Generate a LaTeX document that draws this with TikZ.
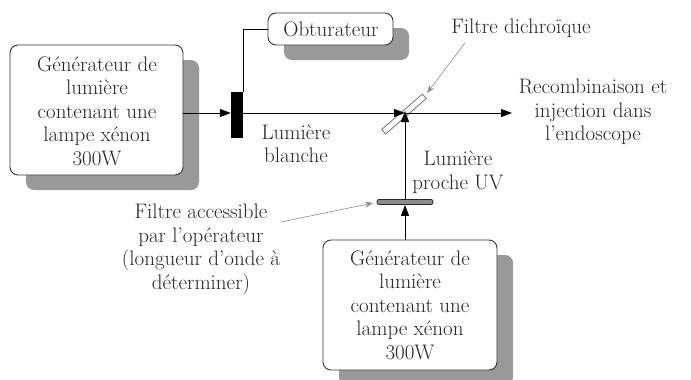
\documentclass[tikz,border=0pt]{standalone}
\usepackage{fontspec}
\usetikzlibrary{arrows.meta,shadows}
\begin{document}
\begin{tikzpicture}[x=1pt,y=-1pt,
  txt/.style={font=\fontsize{21}{23.5}\selectfont, align=center, inner sep=0pt, text=black!85},
  sbox/.style={draw=black!80, line width=0.9pt, fill=white, rounded corners=8pt,
    drop shadow={shadow xshift=16pt, shadow yshift=-15pt, fill=black!40, opacity=1}},
  arr/.style={line width=1pt, -{Triangle[length=11pt,width=8pt]}},
  garr/.style={draw=black!45, line width=0.6pt, -{Stealth[length=8pt,width=6pt]}},
  ln/.style={line width=1pt}
]
\useasboundingbox (0,0) rectangle (691,380);
% left generator
\node[sbox, minimum width=173pt, minimum height=130pt] (gen1) at (96.5,110) {};
\node[txt] (gen1t) at (97,111) {Générateur de\\lumière\\contenant une\\lampe xénon\\300W};
% obturateur
\node[sbox, minimum width=125pt, minimum height=32pt] (obt) at (330.5,29) {};
\node[txt] (obtt) at (331,29) {Obturateur};
% shutter
\node[fill=black, minimum width=12pt, minimum height=46pt, inner sep=0pt] (sh) at (237,115) {};
% lower generator
\node[sbox, minimum width=174pt, minimum height=130pt] (gen2) at (410,305) {};
\node[txt] (gen2t) at (410,305) {Générateur de\\lumière\\contenant une\\lampe xénon\\300W};
% meeting point and end
\coordinate (mp) at (405,113);
\coordinate (endp) at (512,113);
\coordinate (gen1e) at (183,113);
% filters
\node[draw=black!55, fill=white, line width=0.8pt, minimum width=54pt, minimum height=6pt, inner sep=0pt, rotate=41] (dich) at (404,114) {};
\node[draw=black!85, fill=black!45, line width=0.8pt, rounded corners=2pt, minimum width=56pt, minimum height=5pt, inner sep=0pt] (filt) at (405,202) {};
% connectors
\draw[arr] (gen1e) -- (sh.west |- gen1e);
\draw[ln] (sh.north east) |- (obt.west);
\draw[arr] (sh.east |- mp) -- (mp);
\draw[arr] (mp) -- (endp);
\draw[arr] (gen2.north -| mp) -- (filt.south -| mp);
\draw[arr] (filt.north -| mp) -- ([yshift=2pt]mp);
% labels
\node[txt] (lb) at (296,144) {Lumière\\blanche};
\node[txt] (luv) at (458,172) {Lumière\\proche UV};
\node[txt] (fd) at (521,28) {Filtre dichroïque};
\node[txt] (rec) at (593,112) {Recombinaison et\\injection dans\\l'endoscope};
\node[txt] (fa) at (201,249.5) {Filtre accessible\\par l'opérateur\\(longueur d'onde à\\déterminer)};
\coordinate (fdA) at (465,43);
\coordinate (fdB) at (427,93);
\coordinate (faA) at (281,222);
\coordinate (faB) at (373,203);
\draw[garr] (fdA) -- (fdB);
\draw[garr] (faA) -- (faB);
\end{tikzpicture}
\end{document}
